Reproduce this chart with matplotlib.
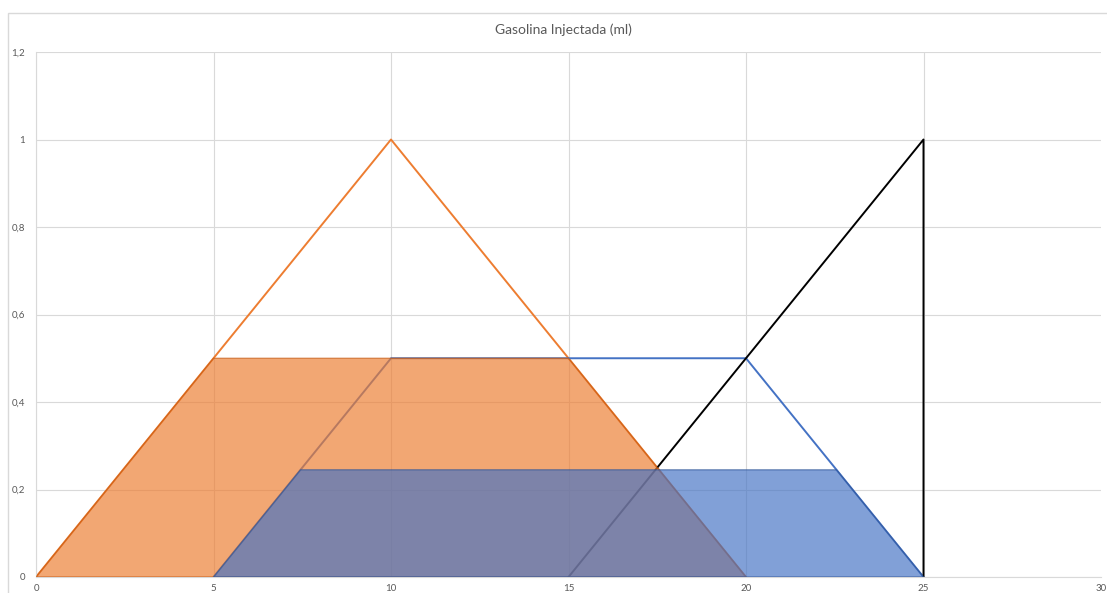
import matplotlib.pyplot as plt
from matplotlib.patches import Rectangle

# membership outlines
orange_x = [0, 10, 20]
orange_y = [0, 1, 0]
blue_x = [5, 10, 20, 25]
blue_y = [0, 0.5, 0.5, 0]
black_x = [15, 25, 25]
black_y = [0, 1, 0]

# clipped (filled) areas
orange_fill_x = [0, 5, 15, 20]
orange_fill_y = [0, 0.5, 0.5, 0]
blue_fill_x = [5, 7.45, 22.55, 25]
blue_fill_y = [0, 0.245, 0.245, 0]

x_ticks = [0, 5, 10, 15, 20, 25, 30]
y_ticks = [0, 0.2, 0.4, 0.6, 0.8, 1.0, 1.2]
y_labels = ["0", "0,2", "0,4", "0,6", "0,8", "1", "1,2"]

plt.rcParams["font.family"] = ["Lato", "DejaVu Sans"]

fig = plt.figure(figsize=(11.07, 5.93), dpi=100)
ax = fig.add_axes([36 / 1107, 1 - 577 / 593, (1101 - 36) / 1107, (577 - 52) / 593])

# chart border
fig.patches.append(
    Rectangle((8 / 1107, -0.01), 1.0, 1 - 13 / 593 + 0.01,
              transform=fig.transFigure, fill=False, edgecolor="#d9d9d9", lw=1)
)

# outlines underneath the fills
ax.plot(orange_x, orange_y, color="#ED7D31", lw=1.4, zorder=2)
ax.plot(blue_x, blue_y, color="#4472C4", lw=1.4, zorder=2)
ax.plot(black_x, black_y, color="black", lw=1.4, zorder=2)

ax.fill(orange_fill_x, orange_fill_y, facecolor="#ED7D31", alpha=0.68,
        edgecolor="#C55A11", lw=0.9, zorder=3)
ax.fill(blue_fill_x, blue_fill_y, facecolor="#4472C4", alpha=0.67,
        edgecolor="#2F5597", lw=0.9, zorder=4)

ax.set_xlim(0, 30)
ax.set_ylim(0, 1.2)
ax.set_xticks(x_ticks)
ax.set_yticks(y_ticks)
ax.set_yticklabels(y_labels)
ax.tick_params(length=0, labelsize=7, labelcolor="#595959")
ax.tick_params(axis="y", pad=8)
ax.tick_params(axis="x", pad=5)

ax.grid(True, color="#d9d9d9", lw=0.8, zorder=0)
ax.set_axisbelow(True)
ax.get_xgridlines()[-1].set_visible(False)
for side in ["top", "right"]:
    ax.spines[side].set_visible(False)
ax.spines["left"].set_color("#d9d9d9")
ax.spines["bottom"].set_color("#d9d9d9")

fig.text(563 / 1107, 1 - 30 / 593, "Gasolina Injectada (ml)", ha="center",
         va="center", fontsize=10, color="#595959")

fig.savefig("out.png", dpi=100)
